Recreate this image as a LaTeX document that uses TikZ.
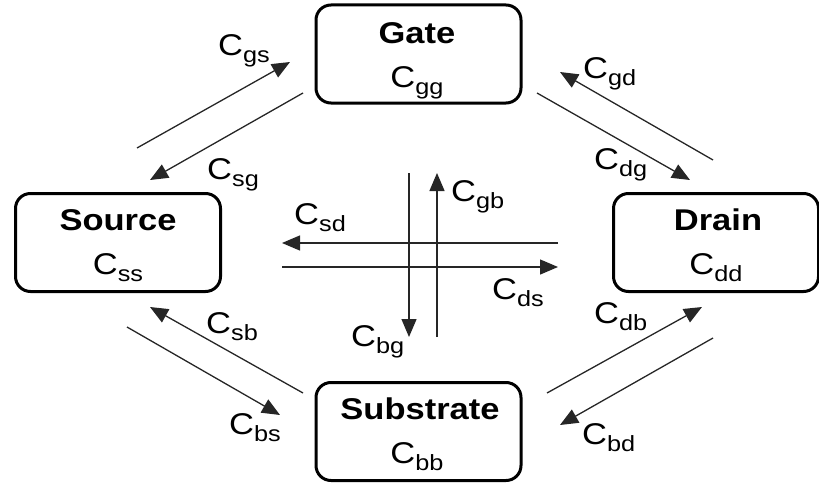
\documentclass[tikz,border=0pt]{standalone}
\usepackage{fontspec}
\setmainfont{Liberation Sans}[FakeStretch=1.15]
\usetikzlibrary{arrows.meta}
\newcommand\capl[1]{C\raisebox{-7pt}{\fontsize{22}{22}\selectfont #1}}
\tikzset{
  box/.style={draw, line width=3pt, rounded corners=15pt, minimum width=205pt, minimum height=98pt, inner sep=0pt},
  title/.style={font=\fontsize{30}{34}\selectfont\bfseries, inner sep=0pt, anchor=base},
  lab/.style={font=\fontsize{30}{34}\selectfont, inner sep=0pt},
  con/.style={line width=1.3pt, draw=black!85, -{Triangle[length=18pt,width=15pt]}}
}
\begin{document}
\begin{tikzpicture}[x=1pt,y=-1pt]
\useasboundingbox (0,0) rectangle (819,487);
% boxes
\node[box] (gate) at (418.5,54) {};
\node[box] (source) at (118,242.5) {};
\node[box] (drain) at (716,242.5) {};
\node[box] (sub) at (418.5,431.5) {};
% box texts
\node[title] (gatet) at (417,44) {Gate};
\node[lab, anchor=base] (gatec) at (417,88) {\capl{gg}};
\node[title] (sourcet) at (118,230) {Source};
\node[lab, anchor=base] (sourcec) at (118,274) {\capl{ss}};
\node[title] (draint) at (718,230) {Drain};
\node[lab, anchor=base] (drainc) at (716,274) {\capl{dd}};
\node[title] (subt) at (420,419) {Substrate};
\node[lab, anchor=base] (subc) at (417,463) {\capl{bb}};
% arrow end points
\coordinate (gs1) at (137,148); \coordinate (gs2) at (290,62);
\coordinate (sg1) at (303,93);  \coordinate (sg2) at (150,180);
\coordinate (gd1) at (713,160); \coordinate (gd2) at (560,72);
\coordinate (dg1) at (537,93);  \coordinate (dg2) at (690,180);
\coordinate (sd1) at (558,243); \coordinate (sd2) at (282,243);
\coordinate (ds1) at (282,267); \coordinate (ds2) at (558,267);
\coordinate (bg1) at (409,173); \coordinate (bg2) at (409,337);
\coordinate (gb1) at (437,337); \coordinate (gb2) at (437,173);
\coordinate (sb1) at (303,393); \coordinate (sb2) at (150,307);
\coordinate (bs1) at (127,327); \coordinate (bs2) at (280,415);
\coordinate (db1) at (547,393); \coordinate (db2) at (702,307);
\coordinate (bd1) at (713,338); \coordinate (bd2) at (560,425);
\draw[con] (gs1) -- (gs2);
\draw[con] (sg1) -- (sg2);
\draw[con] (gd1) -- (gd2);
\draw[con] (dg1) -- (dg2);
\draw[con] (sd1) -- (sd2);
\draw[con] (ds1) -- (ds2);
\draw[con] (bg1) -- (bg2);
\draw[con] (gb1) -- (gb2);
\draw[con] (sb1) -- (sb2);
\draw[con] (bs1) -- (bs2);
\draw[con] (db1) -- (db2);
\draw[con] (bd1) -- (bd2);
% labels
\node[lab, anchor=base west] (lgs) at (218,56) {\capl{gs}};
\node[lab, anchor=base west] (lsg) at (207,179) {\capl{sg}};
\node[lab, anchor=base west] (lgd) at (583,78) {\capl{gd}};
\node[lab, anchor=base west] (ldg) at (594,169) {\capl{dg}};
\node[lab, anchor=base west] (lgb) at (451,201) {\capl{gb}};
\node[lab, anchor=base west] (lsd) at (294,224) {\capl{sd}};
\node[lab, anchor=base west] (lds) at (492,299) {\capl{ds}};
\node[lab, anchor=base west] (lbg) at (351,346) {\capl{bg}};
\node[lab, anchor=base west] (lsb) at (206,333) {\capl{sb}};
\node[lab, anchor=base west] (lbs) at (229,434) {\capl{bs}};
\node[lab, anchor=base west] (ldb) at (594,323) {\capl{db}};
\node[lab, anchor=base west] (lbd) at (582,444) {\capl{bd}};
\end{tikzpicture}
\end{document}
